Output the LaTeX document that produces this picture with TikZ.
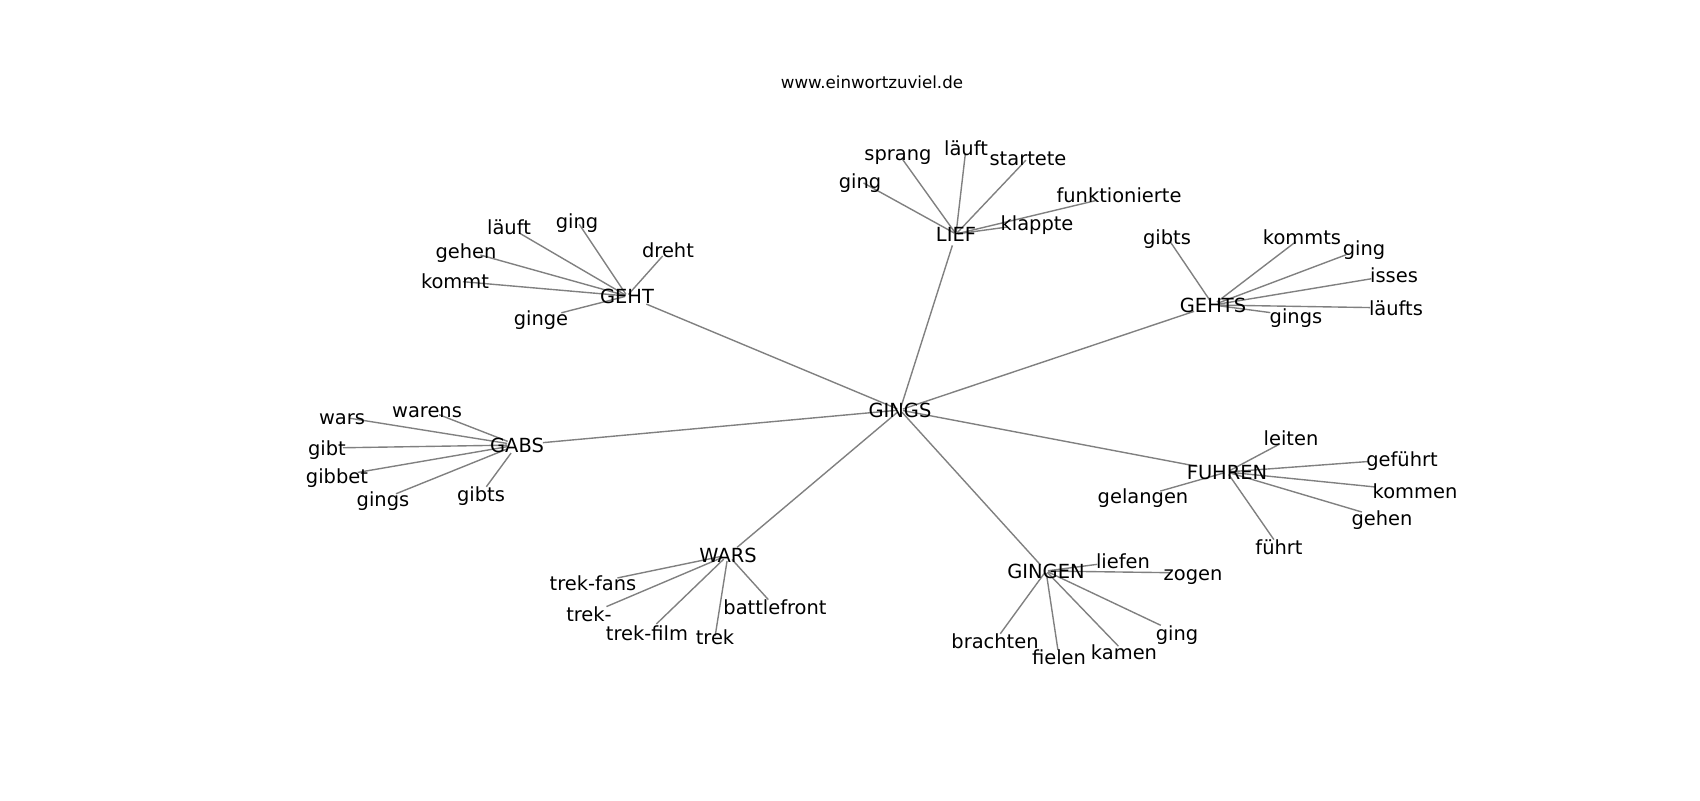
\documentclass[tikz,border=0pt]{standalone}
\usepackage{fontspec}
\setmainfont{DejaVu Sans}
\usetikzlibrary{backgrounds}
\newlength\px \setlength\px{0.72pt}
\begin{document}
\begin{tikzpicture}[x=0.72pt,y=-0.72pt,
  lbl/.style={font=\fontsize{14}{17}\selectfont, inner sep=0pt, text height=14.8\px, text depth=0\px, anchor=center},
  ttl/.style={font=\fontsize{12}{14}\selectfont, inner sep=0pt, text height=12.7\px, text depth=1.5\px, anchor=center},
  edge/.style={draw=gray, line width=1pt}]
\useasboundingbox (0,0) rectangle (1700,800);
\node[ttl] (title) at (872,83) {www.einwortzuviel.de};
% hubs
\node[lbl] (G) at (900,410) {GINGS};
\node[lbl] (LIEF) at (956,234) {LIEF};
\node[lbl] (GEHT) at (627,296) {GEHT};
\node[lbl] (GEHTS) at (1213,305) {GEHTS};
\node[lbl] (GABS) at (517,445) {GABS};
\node[lbl] (FUHREN) at (1227,472) {FUHREN};
\node[lbl] (WARS) at (728,555) {WARS};
\node[lbl] (GINGEN) at (1046,571) {GINGEN};
% LIEF leaves
\node[lbl] (l1) at (860,181) {ging};
\node[lbl] (l2) at (898,153) {sprang};
\node[lbl] (l3) at (966,148) {läuft};
\node[lbl] (l4) at (1028,158) {startete};
\node[lbl] (l5) at (1037,223) {klappte};
\node[lbl] (l6) at (1119,195) {funktionierte};
% GEHT leaves
\node[lbl] (h1) at (509,227) {läuft};
\node[lbl] (h2) at (577,221) {ging};
\node[lbl] (h3) at (466,251) {gehen};
\node[lbl] (h4) at (455,281) {kommt};
\node[lbl] (h5) at (668,250) {dreht};
\node[lbl] (h6) at (541,318) {ginge};
% GEHTS leaves
\node[lbl] (s1) at (1167,237) {gibts};
\node[lbl] (s2) at (1302,237) {kommts};
\node[lbl] (s3) at (1364,248) {ging};
\node[lbl] (s4) at (1394,275) {isses};
\node[lbl] (s5) at (1396,308) {läufts};
\node[lbl] (s6) at (1296,316) {gings};
% GABS leaves
\node[lbl] (a1) at (342,417) {wars};
\node[lbl] (a2) at (427,410) {warens};
\node[lbl] (a3) at (327,448) {gibt};
\node[lbl] (a4) at (337,476) {gibbet};
\node[lbl] (a5) at (383,499) {gings};
\node[lbl] (a6) at (481,494) {gibts};
% FUHREN leaves
\node[lbl] (f1) at (1291,438) {leiten};
\node[lbl] (f2) at (1402,459) {geführt};
\node[lbl] (f3) at (1415,491) {kommen};
\node[lbl] (f4) at (1382,518) {gehen};
\node[lbl] (f5) at (1279,547) {führt};
\node[lbl] (f6) at (1143,496) {gelangen};
% WARS leaves
\node[lbl] (w1) at (593,583) {trek-fans};
\node[lbl] (w2) at (589,614) {trek-};
\node[lbl] (w3) at (647,633) {trek-film};
\node[lbl] (w4) at (715,637) {trek};
\node[lbl] (w5) at (775,607) {battlefront};
% GINGEN leaves
\node[lbl] (n1) at (1123,561) {liefen};
\node[lbl] (n2) at (1193,573) {zogen};
\node[lbl] (n3) at (1177,633) {ging};
\node[lbl] (n4) at (1124,652) {kamen};
\node[lbl] (n5) at (1059,657) {fielen};
\node[lbl] (n6) at (995,641) {brachten};
\begin{pgfonlayer}{background}
\fill[white] (0,0) rectangle (1700,800);
% GINGS to hubs
\draw[edge, shorten <=3\px, shorten >=12\px] (G.center) -- (LIEF.center);
\draw[edge, shorten <=3\px, shorten >=21\px] (G.center) -- (GEHT.center);
\draw[edge, shorten <=3\px, shorten >=20\px] (G.center) -- (GEHTS.center);
\draw[edge, shorten <=3\px, shorten >=26\px] (G.center) -- (GABS.center);
\draw[edge, shorten <=3\px, shorten >=30\px] (G.center) -- (FUHREN.center);
\draw[edge, shorten <=3\px, shorten >=12\px] (G.center) -- (WARS.center);
\draw[edge, shorten <=3\px, shorten >=8\px] (G.center) -- (GINGEN.center);
% LIEF
\draw[edge, shorten <=2\px, shorten >=4\px] (LIEF.center) -- (l1.center);
\draw[edge, shorten <=2\px, shorten >=6\px] (LIEF.center) -- (l2.center);
\draw[edge, shorten <=2\px, shorten >=7\px] (LIEF.center) -- (l3.center);
\draw[edge, shorten <=2\px, shorten >=3\px] (LIEF.center) -- (l4.center);
\draw[edge, shorten <=2\px, shorten >=30\px] (LIEF.center) -- (l5.center);
\draw[edge, shorten <=2\px, shorten >=23\px] (LIEF.center) -- (l6.center);
% GEHT
\draw[edge, shorten <=2\px, shorten >=13\px] (GEHT.center) -- (h1.center);
\draw[edge, shorten <=2\px, shorten >=4\px] (GEHT.center) -- (h2.center);
\draw[edge, shorten <=2\px, shorten >=15\px] (GEHT.center) -- (h3.center);
\draw[edge, shorten <=2\px, shorten >=8\px] (GEHT.center) -- (h4.center);
\draw[edge, shorten <=2\px, shorten >=8\px] (GEHT.center) -- (h5.center);
\draw[edge, shorten <=2\px, shorten >=21\px] (GEHT.center) -- (h6.center);
% GEHTS
\draw[edge, shorten <=5\px, shorten >=6\px] (GEHTS.center) -- (s1.center);
\draw[edge, shorten <=5\px, shorten >=8\px] (GEHTS.center) -- (s2.center);
\draw[edge, shorten <=5\px, shorten >=19\px] (GEHTS.center) -- (s3.center);
\draw[edge, shorten <=5\px, shorten >=23\px] (GEHTS.center) -- (s4.center);
\draw[edge, shorten <=5\px, shorten >=26\px] (GEHTS.center) -- (s5.center);
\draw[edge, shorten <=5\px, shorten >=26\px] (GEHTS.center) -- (s6.center);
% GABS
\draw[edge, shorten <=10\px, shorten >=8\px] (GABS.center) -- (a1.center);
\draw[edge, shorten <=10\px, shorten >=13\px] (GABS.center) -- (a2.center);
\draw[edge, shorten <=10\px, shorten >=16\px] (GABS.center) -- (a3.center);
\draw[edge, shorten <=10\px, shorten >=21\px] (GABS.center) -- (a4.center);
\draw[edge, shorten <=10\px, shorten >=14\px] (GABS.center) -- (a5.center);
\draw[edge, shorten <=10\px, shorten >=9\px] (GABS.center) -- (a6.center);
% FUHREN
\draw[edge, shorten <=3\px, shorten >=13\px] (FUHREN.center) -- (f1.center);
\draw[edge, shorten <=3\px, shorten >=34\px] (FUHREN.center) -- (f2.center);
\draw[edge, shorten <=3\px, shorten >=40\px] (FUHREN.center) -- (f3.center);
\draw[edge, shorten <=3\px, shorten >=21\px] (FUHREN.center) -- (f4.center);
\draw[edge, shorten <=3\px, shorten >=9\px] (FUHREN.center) -- (f5.center);
\draw[edge, shorten <=3\px, shorten >=18\px] (FUHREN.center) -- (f6.center);
% WARS
\draw[edge, shorten <=6\px, shorten >=25\px] (WARS.center) -- (w1.center);
\draw[edge, shorten <=6\px, shorten >=19\px] (WARS.center) -- (w2.center);
\draw[edge, shorten <=6\px, shorten >=13\px] (WARS.center) -- (w3.center);
\draw[edge, shorten <=6\px, shorten >=1\px] (WARS.center) -- (w4.center);
\draw[edge, shorten <=6\px, shorten >=10\px] (WARS.center) -- (w5.center);
% GINGEN
\draw[edge, shorten <=2\px, shorten >=26\px] (GINGEN.center) -- (n1.center);
\draw[edge, shorten <=2\px, shorten >=23\px] (GINGEN.center) -- (n2.center);
\draw[edge, shorten <=2\px, shorten >=18\px] (GINGEN.center) -- (n3.center);
\draw[edge, shorten <=2\px, shorten >=8\px] (GINGEN.center) -- (n4.center);
\draw[edge, shorten <=2\px, shorten >=7\px] (GINGEN.center) -- (n5.center);
\draw[edge, shorten <=2\px, shorten >=9\px] (GINGEN.center) -- (n6.center);
\end{pgfonlayer}
\end{tikzpicture}
\end{document}
